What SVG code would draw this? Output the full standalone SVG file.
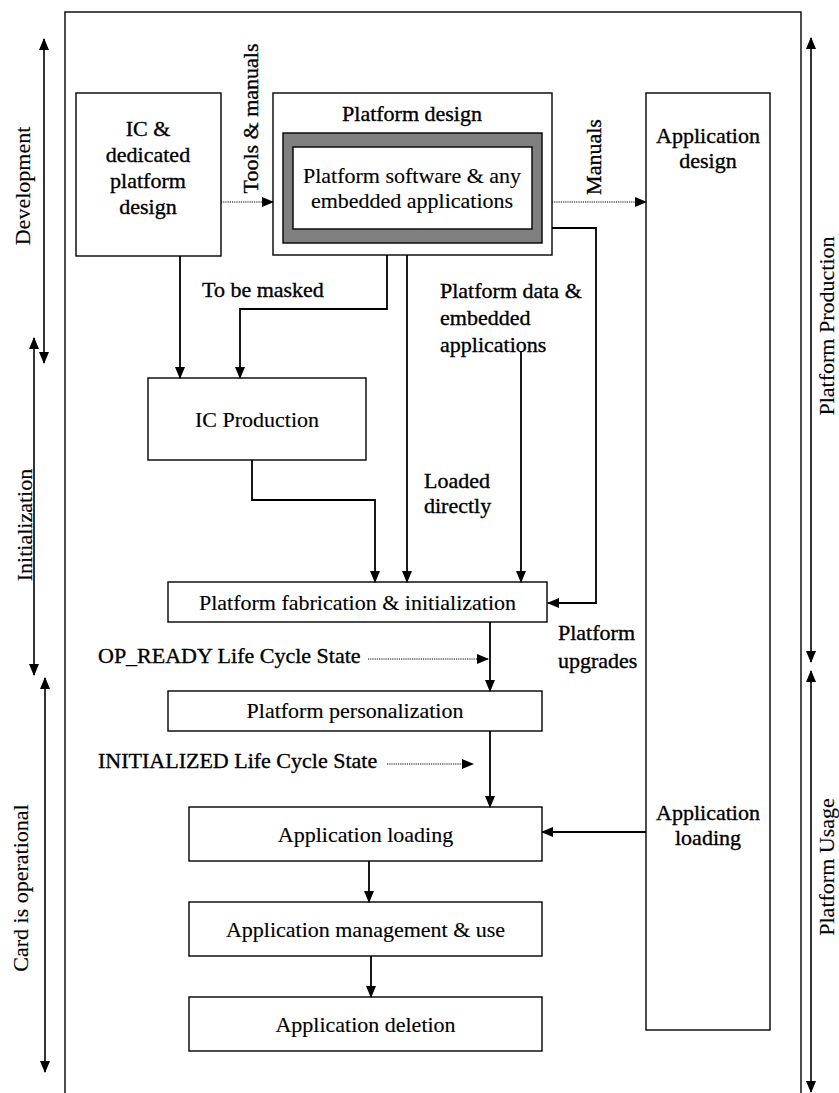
<svg xmlns="http://www.w3.org/2000/svg" width="839" height="1093" viewBox="0 0 839 1093" font-family="'Liberation Serif', 'Times New Roman', 'DejaVu Serif', serif">
<style>
text{font-family:'Liberation Serif','Times New Roman','DejaVu Serif',serif;font-size:22px;fill:#000}
.c{text-anchor:middle}
.dk{stroke:#000;stroke-width:0.35}
.bx{stroke:#000;stroke-width:0.15}
.box{fill:#fff;stroke:#000;stroke-width:1.4}
.ln{fill:none;stroke:#000;stroke-width:1.8}
.dot{fill:none;stroke:#000;stroke-width:1.1;stroke-dasharray:1.2 1}
.thin{fill:none;stroke:#000;stroke-width:1.6}
</style>
<defs>
<marker id="ah" markerUnits="userSpaceOnUse" markerWidth="12" markerHeight="10" viewBox="0 0 12 10" refX="11" refY="5" orient="auto">
<path d="M0,0 L12,5 L0,10 z" fill="#000"/>
</marker>
<marker id="as" markerUnits="userSpaceOnUse" markerWidth="12" markerHeight="10" viewBox="0 0 12 10" refX="1" refY="5" orient="auto">
<path d="M12,0 L0,5 L12,10 z" fill="#000"/>
</marker>
</defs>
<rect x="65" y="12" width="736" height="1100" fill="none" stroke="#000" stroke-width="1.4"/>
<g id="phases">
<path class="thin" d="M44 39 V363" marker-start="url(#as)" marker-end="url(#ah)"/>
<path class="thin" d="M34 338 V675" marker-start="url(#as)" marker-end="url(#ah)"/>
<path class="thin" d="M45 678 V1072" marker-start="url(#as)" marker-end="url(#ah)"/>
<path class="thin" d="M811 38 V662" marker-start="url(#as)" marker-end="url(#ah)"/>
<path class="thin" d="M811 671 V1092" marker-start="url(#as)" marker-end="url(#ah)"/>
<text class="c bx" transform="translate(30,186) rotate(-90)">Development</text>
<text class="c bx" transform="translate(32,525) rotate(-90)">Initialization</text>
<text class="c bx" transform="translate(28,888) rotate(-90)">Card is operational</text>
<text class="c bx" transform="translate(834,326) rotate(-90)">Platform Production</text>
<text class="c bx" transform="translate(834,867) rotate(-90)">Platform Usage</text>
</g>
<g id="ic-design">
<rect class="box" x="76" y="93" width="145" height="163"/>
<text class="c dk" x="148" y="136">IC &amp;</text>
<text class="c dk" x="148" y="162">dedicated</text>
<text class="c dk" x="148" y="188">platform</text>
<text class="c dk" x="148" y="214">design</text>
</g>
<g id="platform-design">
<rect class="box" x="273" y="93" width="279" height="162"/>
<text class="c dk" x="412" y="121">Platform design</text>
<rect x="283" y="133" width="259" height="110" fill="#808080" stroke="#000" stroke-width="1.4"/>
<rect class="box" x="293" y="147" width="239" height="82"/>
<text class="c bx" x="412" y="183">Platform software &amp; any</text>
<text class="c bx" x="412" y="208">embedded applications</text>
</g>
<g id="application-design">
<rect class="box" x="646" y="93" width="124" height="937"/>
<text class="c dk" x="708" y="143">Application</text>
<text class="c dk" x="708" y="168">design</text>
<text class="c dk" x="708" y="820">Application</text>
<text class="c dk" x="708" y="845">loading</text>
</g>
<g id="ic-production">
<rect class="box" x="148" y="378" width="218" height="82"/>
<text class="c bx" x="257" y="427">IC Production</text>
</g>
<g id="fabrication">
<rect class="box" x="168" y="582" width="379" height="40"/>
<text class="c bx" x="357.5" y="610">Platform fabrication &amp; initialization</text>
</g>
<g id="personalization">
<rect class="box" x="168" y="691" width="374" height="40"/>
<text class="c bx" x="355" y="718">Platform personalization</text>
</g>
<g id="app-loading">
<rect class="box" x="189" y="807" width="353" height="54"/>
<text class="c bx" x="365.5" y="842">Application loading</text>
</g>
<g id="app-management">
<rect class="box" x="189" y="902" width="353" height="54"/>
<text class="c bx" x="365.5" y="937">Application management &amp; use</text>
</g>
<g id="app-deletion">
<rect class="box" x="189" y="997" width="353" height="54"/>
<text class="c bx" x="365.5" y="1032">Application deletion</text>
</g>
<g id="connectors">
<path class="ln" d="M180 256 V378" marker-end="url(#ah)"/>
<path class="ln" d="M387 255 V309 H240 V378" marker-end="url(#ah)"/>
<path class="ln" d="M252 460 V500 H375 V582" marker-end="url(#ah)"/>
<path class="ln" d="M407 255 V582" marker-end="url(#ah)"/>
<path class="ln" d="M521 352 V582" marker-end="url(#ah)"/>
<path class="ln" d="M552 228 H596 V603 H548" marker-end="url(#ah)"/>
<path class="ln" d="M490 622 V691" marker-end="url(#ah)"/>
<path class="ln" d="M490 731 V807" marker-end="url(#ah)"/>
<path class="ln" d="M369 861 V902" marker-end="url(#ah)"/>
<path class="ln" d="M371 956 V997" marker-end="url(#ah)"/>
<path class="ln" d="M646 832 H542" marker-end="url(#ah)"/>
<path class="dot" d="M221 202 H273" marker-end="url(#ah)"/>
<path class="dot" d="M552 202 H646" marker-end="url(#ah)"/>
<path class="dot" d="M368 659 H488" marker-end="url(#ah)"/>
<path class="dot" d="M387 764 H473" marker-end="url(#ah)"/>
<text transform="translate(258,118.5) rotate(-90)" class="c dk">Tools &amp; manuals</text>
<text transform="translate(601,157) rotate(-90)" class="c dk">Manuals</text>
<text class="dk" x="202" y="297">To be masked</text>
<text class="dk" x="440" y="298">Platform data &amp;</text>
<text class="dk" x="440" y="325">embedded</text>
<text class="dk" x="440" y="352">applications</text>
<text class="dk" x="424" y="488">Loaded</text>
<text class="dk" x="424" y="513">directly</text>
<text class="dk" x="558" y="640">Platform</text>
<text class="dk" x="558" y="668">upgrades</text>
<text class="dk" x="98" y="663">OP_READY Life Cycle State</text>
<text class="dk" x="98" y="768">INITIALIZED Life Cycle State</text>
</g>
</svg>
